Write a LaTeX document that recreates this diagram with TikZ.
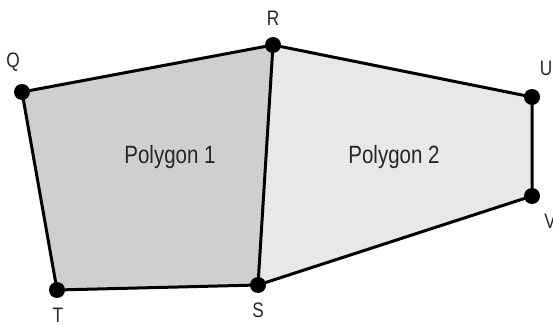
\documentclass[tikz,border=0pt]{standalone}
\usepackage{fontspec}
\setmainfont{Liberation Sans}[FakeStretch=0.82]
\begin{document}
\begin{tikzpicture}[x=1pt,y=1pt,
  vert/.style={circle,fill=black,inner sep=0pt,minimum size=16pt},
  edge/.style={line width=3pt,line join=round},
  lab/.style={font=\fontsize{21}{21}\selectfont,text=black!85,inner sep=0pt},
  plab/.style={font=\fontsize{25}{25}\selectfont,text=black!85,inner sep=0pt}]
\useasboundingbox (0,0) rectangle (553,324);
\coordinate (q) at (22,232);
\coordinate (r) at (273,279);
\coordinate (u) at (532,227);
\coordinate (v) at (532,128);
\coordinate (s) at (258,39);
\coordinate (t) at (57,34);
\fill[black!19] (q) -- (r) -- (s) -- (t) -- cycle;
\fill[black!9] (r) -- (u) -- (v) -- (s) -- cycle;
\draw[edge] (q) -- (r) -- (u) -- (v) -- (s) -- (t) -- cycle;
\draw[edge] (r) -- (s);
\foreach \p in {q,r,u,v,s,t} \node[vert] (d\p) at (\p) {};
\node[lab] (lq) at (13,262) {Q};
\node[lab] (lr) at (273,306) {R};
\node[lab] (lu) at (546,256) {U};
\node[lab] (lv) at (550,103) {V};
\node[lab] (ls) at (258,14) {S};
\node[lab] (lt) at (58,9) {T};
\node[plab] (p1) at (170,167) {Polygon 1};
\node[plab] (p2) at (394,167) {Polygon 2};
\end{tikzpicture}
\end{document}
